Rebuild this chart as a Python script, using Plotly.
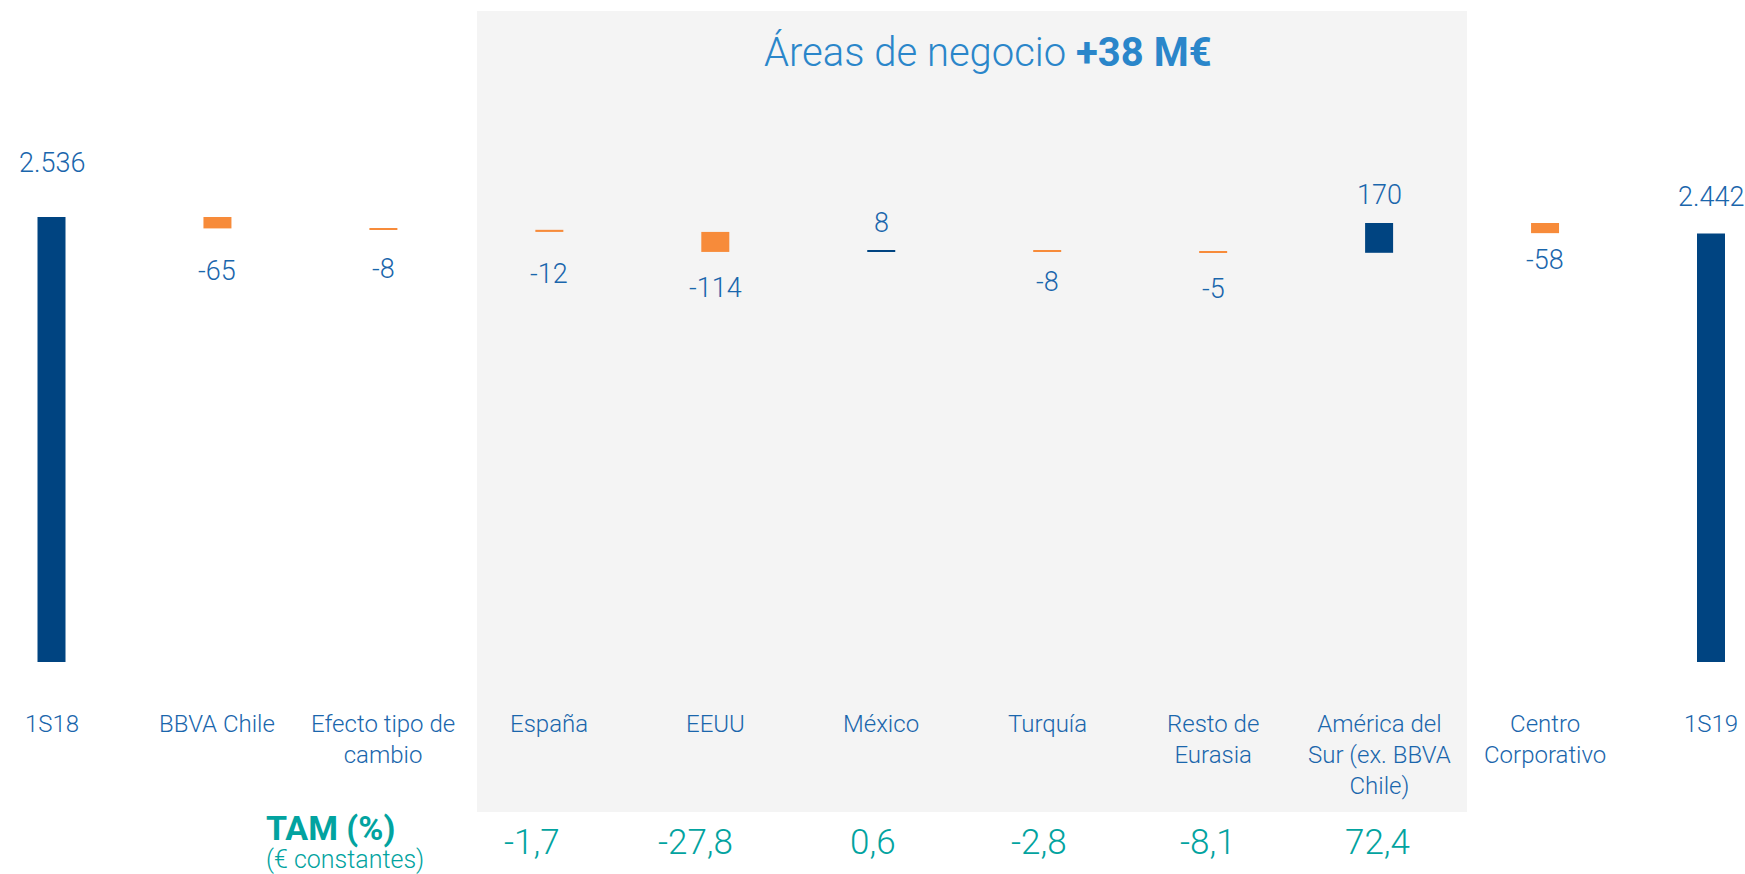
import plotly.graph_objects as go

# Net attributable profit bridge, 1S18 -> 1S19 (M€)
categories = ["1S18", "BBVA Chile", "Efecto tipo de<br>cambio", "España", "EEUU", "México",
              "Turquía", "Resto de<br>Eurasia", "América del<br>Sur (ex. BBVA<br>Chile)",
              "Centro<br>Corporativo", "1S19"]
measures = ["absolute", "relative", "relative", "relative", "relative", "relative",
            "relative", "relative", "relative", "relative", "absolute"]
values = [2536, -65, -8, -12, -114, 8, -8, -5, 170, -58, 2442]
# Year-on-year change at constant exchange rates (%), business areas only
tam = [None, None, None, -1.7, -27.8, 0.6, -2.8, -8.1, 72.4, None, None]
panel_title = "Áreas de negocio <b>+38 M€</b>"

# label placement (pixels away from the bar end)
label_gap = [54, 43, 39, 42, 36, 28, 30, 36, 28, 27, 37]
tam_xshift = [0, 0, 0, -17, -20, -8, -8, -5, -2, 0, 0]

NAVY = "#004481"
ORANGE = "#F78B3A"
LABEL_BLUE = "#1A66AC"
TITLE_BLUE = "#2A86CA"
TEAL = "#02A3A0"
FONT = "Roboto"

W, H = 1745, 874
PX_PER_CAT = 165.95
X0_PX = 51.5
x_lo = -X0_PX / PX_PER_CAT
x_hi = x_lo + W / PX_PER_CAT

Y_PX_PER_UNIT = 0.17547
ZERO_PX = 662
y_lo = -(H - ZERO_PX) / Y_PX_PER_UNIT
y_hi = ZERO_PX / Y_PX_PER_UNIT

xs = list(range(len(categories)))

fig = go.Figure()
fig.add_trace(go.Waterfall(
    x=xs, y=values, measure=measures,
    width=[28 / PX_PER_CAT] * len(xs),
    increasing=dict(marker=dict(color=NAVY)),
    decreasing=dict(marker=dict(color=ORANGE)),
    totals=dict(marker=dict(color=NAVY)),
    connector=dict(visible=False),
    hoverinfo="skip",
))


def fmt_int(v):
    return f"{v:,}".replace(",", ".")


def fmt_dec(v):
    return f"{v:.1f}".replace(".", ",")


annotations = []
running = 0
for i, (m, v) in enumerate(zip(measures, values)):
    if m == "absolute":
        start, end = 0, v
        running = v
    else:
        start, end = running, running + v
        running = end
    up = v >= 0
    annotations.append(dict(
        x=i, y=end, xref="x", yref="y", text=fmt_int(v), showarrow=False,
        yshift=label_gap[i] if up else -label_gap[i], yanchor="middle",
        font=dict(family=FONT, size=27, color=LABEL_BLUE, weight=300),
    ))

# category labels under the bars
for i, c in enumerate(categories):
    annotations.append(dict(
        x=i, y=1 - 708 / H, xref="x", yref="paper", text=c, showarrow=False,
        yanchor="top", align="center",
        font=dict(family=FONT, size=24, color=LABEL_BLUE, weight=300),
    ))

# growth row
for i, t in enumerate(tam):
    if t is None:
        continue
    annotations.append(dict(
        x=i, y=1 - 842.5 / H, xref="x", yref="paper", text=fmt_dec(t), showarrow=False,
        xshift=tam_xshift[i], yanchor="middle",
        font=dict(family=FONT, size=35, color=TEAL, weight=300),
    ))
annotations.append(dict(
    x=264 / W, y=1 - 828 / H, xref="paper", yref="paper", text="<b>TAM (%)</b>",
    showarrow=False, xanchor="left", yanchor="middle",
    font=dict(family=FONT, size=34, color=TEAL),
))
annotations.append(dict(
    x=264 / W, y=1 - 859 / H, xref="paper", yref="paper", text="(€ constantes)",
    showarrow=False, xanchor="left", yanchor="middle",
    font=dict(family=FONT, size=25, color=TEAL, weight=300),
))

# business-areas panel heading
annotations.append(dict(
    x=987.5 / W, y=1 - 53 / H, xref="paper", yref="paper", text=panel_title,
    showarrow=False, xanchor="center", yanchor="middle",
    font=dict(family=FONT, size=40, color=TITLE_BLUE, weight=300),
))

fig.update_layout(
    width=W, height=H,
    margin=dict(l=0, r=0, t=0, b=0),
    paper_bgcolor="white", plot_bgcolor="rgba(0,0,0,0)",
    showlegend=False,
    xaxis=dict(range=[x_lo, x_hi], visible=False, fixedrange=True),
    yaxis=dict(range=[y_lo, y_hi], visible=False, fixedrange=True),
    annotations=annotations,
    shapes=[dict(
        type="rect", xref="paper", yref="paper", layer="below",
        x0=477 / W, x1=1467 / W, y0=1 - 812 / H, y1=1 - 11 / H,
        fillcolor="#F4F4F4", line=dict(width=0),
    )],
)

fig.write_html("out.html", config={"displayModeBar": False})
